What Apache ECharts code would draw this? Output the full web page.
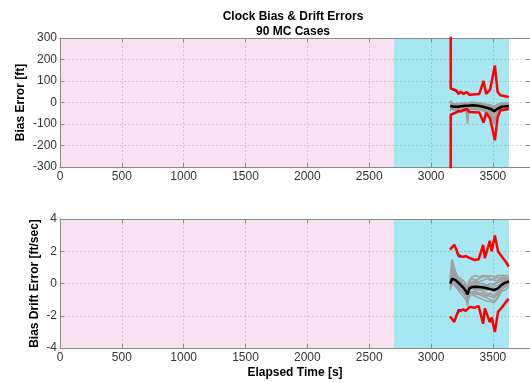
<!DOCTYPE html>
<html><head><meta charset="utf-8">
<script src="https://cdn.jsdelivr.net/npm/echarts@6/dist/echarts.min.js"></script>
<style>html,body{margin:0;padding:0;background:#fff}#c{width:530px;height:383px}</style>
</head><body><div id="c"></div>
<script>
// ---------- data ----------
const phase1 = [0, 2700];
const phase2 = [2700, 3630];

// MC time grid
const tMC = [3155, 3170, 3185, 3200, 3220, 3240, 3260, 3280, 3295, 3310, 3330, 3360, 3390, 3420, 3450, 3480, 3510, 3540, 3570, 3600, 3630];

// Top: bias error [ft]
const biasMean = [-16, -14, -20, -22, -20, -17, -16, -15, -13, -14, -13, -14, -16, -20, -24, -30, -40, -28, -20, -18, -18];
const biasRuns = [
  [-5, -8, -15, -18, -14, -10, -8, -6, -20, -8, -5, -6, -8, -12, -15, -20, -30, -18, -10, -8, -8],
  [-28, -22, -26, -30, -28, -25, -24, -22, -100, -25, -22, -24, -26, -30, -34, -40, -55, -38, -30, -28, -28],
  [10, -2, -12, -14, -12, -10, -10, -8, -30, -6, -4, -6, -10, -14, -18, -26, -32, -22, -14, -12, -10],
  [-35, -25, -30, -32, -30, -28, -26, -24, -60, -22, -20, -22, -24, -28, -40, -60, -90, -40, -28, -26, -26],
  [-15, -12, -18, -20, -18, -15, -14, -12, -40, -12, -10, -12, -14, -18, -22, -28, -38, -26, -18, -16, -16],
  [-22, -16, -22, -26, -24, -20, -20, -18, -70, -20, -16, -18, -20, -24, -28, -34, -48, -32, -24, -22, -22],
  [0, -10, -16, -16, -16, -14, -12, -12, -10, -14, -12, -14, -14, -16, -20, -24, -28, -20, -14, -14, -14],
  [-40, -20, -24, -28, -26, -22, -20, -16, -50, -18, -14, -16, -18, -22, -30, -45, -100, -35, -22, -20, -20],
  [-8, -4, -10, -12, -10, -8, -6, -4, -8, -4, -2, -2, -4, -6, -10, -14, -20, -12, -6, -4, -5],
  [-30, -28, -32, -36, -34, -30, -30, -28, -45, -30, -28, -30, -32, -36, -42, -50, -70, -45, -34, -32, -30],
  [5, 2, -6, -8, -6, -4, -2, 0, -15, 0, 2, 0, -2, -6, -8, -12, -18, -8, -2, -2, -3],
  [-25, -30, -35, -38, -36, -33, -32, -30, -80, -32, -30, -32, -34, -38, -46, -55, -75, -50, -36, -34, -33]
];
const tBiasBound = [3158, 3159, 3172, 3205, 3222, 3240, 3262, 3288, 3310, 3390, 3425, 3445, 3478, 3516, 3538, 3560, 3628];
const biasUpper = [2000, 66, 58, 56, 40, 50, 40, 48, 36, 40, 100, 40, 60, 172, 50, 34, 26];
const biasLower = [-2000, -58, -50, -46, -40, -42, -36, -30, -44, -46, -94, -48, -75, -176, -70, -36, -30];
const tBiasBlue = [3158, 3159, 3172, 3205, 3222];
const biasBlueUp = [2000, 64, 56, 52, 38];
const biasBlueLo = [-2000, -56, -48, -44, -38];

// Bottom: drift error [ft/sec]
const driftMean = [0.0, 0.3, 0.35, 0.2, 0.05, -0.1, -0.25, -0.45, -0.68, -0.3, -0.22, -0.2, -0.22, -0.25, -0.3, -0.35, -0.4, -0.3, -0.08, 0.05, 0.12];
const driftRuns = [
  [0.2, 1.4, 0.8, 0.4, 0.2, 0.0, -0.2, -0.3, -0.5, -0.1, 0.1, 0.2, 0.1, 0.2, 0.3, 0.2, 0.3, 0.4, 0.2, 0.3, 0.3],
  [-0.3, 0.8, 0.5, 0.1, -0.2, -0.4, -0.5, -0.8, -1.4, -0.6, -0.5, -0.6, -0.7, -0.8, -0.9, -1.0, -1.1, -0.8, -0.4, -0.2, -0.1],
  [0.4, 1.0, 0.9, 0.5, 0.3, 0.2, 0.0, -0.2, -0.4, 0.0, 0.0, 0.1, 0.0, 0.0, -0.1, 0.0, -0.1, 0.1, 0.3, 0.3, 0.4],
  [-0.2, -0.2, 0.0, -0.1, -0.3, -0.4, -0.6, -0.8, -1.0, -0.5, -0.5, -0.5, -0.6, -0.6, -0.7, -0.8, -0.9, -0.6, -0.3, -0.2, -0.1],
  [0.1, 0.6, 0.3, 0.2, 0.0, -0.1, -0.3, -0.5, -0.7, -0.3, -0.2, -0.3, -0.3, -0.4, -0.4, -0.4, -0.5, -0.4, -0.1, 0.0, 0.1],
  [0.0, 1.2, 0.6, 0.3, 0.1, -0.2, -0.3, -0.4, -0.9, -0.2, -0.1, -0.1, -0.2, -0.1, -0.2, -0.3, -0.2, -0.1, 0.0, 0.2, 0.2],
  [-0.1, 0.2, 0.2, 0.0, -0.1, -0.3, -0.4, -0.6, -0.8, -0.4, -0.3, -0.4, -0.4, -0.5, -0.6, -0.7, -0.7, -0.5, -0.2, -0.1, 0.0],
  [0.3, 0.5, 0.4, 0.3, 0.1, 0.1, -0.1, -0.2, -0.6, 0.1, 0.3, 0.2, 0.3, 0.4, 0.5, 0.3, 0.2, 0.2, 0.4, 0.4, 0.3],
  [-0.4, 0.1, -0.1, -0.2, -0.4, -0.6, -0.8, -1.0, -1.2, -0.8, -0.7, -0.8, -0.9, -1.0, -1.1, -1.1, -1.2, -0.9, -0.5, -0.4, -0.2],
  [0.5, 1.5, 1.1, 0.7, 0.4, 0.3, 0.2, 0.0, -0.2, 0.2, 0.4, 0.5, 0.4, 0.5, 0.4, 0.5, 0.4, 0.5, 0.5, 0.5, 0.5],
  [-0.2, 0.4, 0.1, -0.1, -0.2, -0.2, -0.5, -0.7, -1.1, -0.6, -0.6, -0.7, -0.6, -0.7, -0.8, -0.6, -0.8, -0.7, -0.3, -0.1, 0.0],
  [0.2, 0.9, 0.7, 0.4, 0.2, 0.1, -0.1, -0.1, -0.3, -0.2, -0.1, 0.0, -0.1, -0.2, -0.1, -0.2, 0.0, 0.1, 0.1, 0.2, 0.3]
];
const tDriftBound = [3153, 3170, 3188, 3205, 3220, 3240, 3260, 3280, 3314, 3354, 3385, 3421, 3435, 3475, 3490, 3516, 3542, 3582, 3600, 3628];
const driftUpper = [2.1, 2.25, 2.4, 2.1, 1.78, 1.7, 1.65, 1.7, 1.57, 1.46, 1.5, 2.4, 1.57, 2.65, 2.0, 2.98, 1.98, 1.57, 1.4, 1.05];
const driftLower = [-2.05, -2.2, -2.38, -2.0, -1.75, -1.68, -1.6, -1.7, -1.45, -1.5, -1.4, -2.5, -1.55, -2.4, -2.1, -3.0, -1.75, -1.4, -1.2, -0.95];
const tDriftBlue = [3205, 3220, 3240];
const driftBlueUp = [2.0, 1.7, 1.62];
const driftBlueLo = [-1.95, -1.65, -1.62];

const xMax = 3800, xStep = 500;
const biasRange = [-300, 300, 100];
const driftRange = [-4, 4, 2];

// ---------- chart ----------
const FONT = 'Liberation Sans, Arial, sans-serif';
const zip = (t, v) => t.map((x, i) => [x, v[i]]);
const chart = echarts.init(document.getElementById('c'), null, {renderer: 'canvas'});

const grids = [
  {left: 60, top: 38, right: -2, height: 129},
  {left: 60, top: 219, right: -2, height: 129}
];
const AX = '#8a8a8a';
const SPLIT = {show: true, lineStyle: {color: 'rgba(110,110,110,0.28)', type: [2, 2], width: 1}};

function xAxes(gi, withName) {
  return [
    {type: 'value', gridIndex: gi, min: 0, max: xMax, interval: xStep, z: 3,
     axisLine: {show: true, onZero: false, lineStyle: {color: AX}},
     axisTick: {show: true, inside: true, length: 4, lineStyle: {color: AX}},
     axisLabel: {color: '#333', fontFamily: FONT, fontSize: 12, margin: 4, showMaxLabel: false, formatter: v => String(v)},
     splitLine: SPLIT,
     name: withName ? 'Elapsed Time [s]' : '', nameLocation: 'middle', nameGap: 19, nameMoveOverlap: false,
     nameTextStyle: {fontFamily: FONT, fontWeight: 'bold', fontSize: 12, color: '#000'}},
    {type: 'value', gridIndex: gi, position: 'top', min: 0, max: xMax, interval: xStep, z: 3,
     axisLine: {show: true, onZero: false, lineStyle: {color: AX}},
     axisTick: {show: true, inside: true, length: 4, lineStyle: {color: AX}},
     axisLabel: {show: false}, splitLine: {show: false}}
  ];
}
function yAxes(gi, r, name, gap) {
  return [
    {type: 'value', gridIndex: gi, min: r[0], max: r[1], interval: r[2], z: 3,
     axisLine: {show: true, onZero: false, lineStyle: {color: AX}},
     axisTick: {show: true, inside: true, length: 4, lineStyle: {color: AX}},
     axisLabel: {color: '#333', fontFamily: FONT, fontSize: 12, margin: 3, formatter: v => String(v)},
     splitLine: SPLIT,
     name: name, nameLocation: 'middle', nameRotate: 90, nameGap: gap, nameMoveOverlap: false,
     nameTextStyle: {fontFamily: FONT, fontWeight: 'bold', fontSize: 12, color: '#000'}},
    {type: 'value', gridIndex: gi, position: 'right', min: r[0], max: r[1], interval: r[2], z: 3,
     axisLine: {show: true, onZero: false, lineStyle: {color: AX}},
     axisTick: {show: true, inside: true, length: 4, lineStyle: {color: AX}},
     axisLabel: {show: false}, splitLine: {show: false}}
  ];
}

function plotSeries(gi, runs, mean, tB, up, lo, tBl, blUp, blLo) {
  const xi = gi * 2, yi = gi * 2;
  const base = {type: 'line', xAxisIndex: xi, yAxisIndex: yi, showSymbol: false, symbol: 'none', silent: true, animation: false, clip: true};
  const s = [];
  s.push(Object.assign({}, base, {z: 1, data: [],
    markArea: {silent: true, itemStyle: {opacity: 1}, data: [
      [{xAxis: phase1[0], itemStyle: {color: '#f8e2f0'}}, {xAxis: phase1[1]}],
      [{xAxis: phase2[0], itemStyle: {color: '#a6e7f1'}}, {xAxis: phase2[1]}]
    ]}}));
  runs.forEach(r => s.push(Object.assign({}, base, {z: 5, data: zip(tMC, r), lineStyle: {color: '#a0a0a0', width: 1.5}})));
  s.push(Object.assign({}, base, {z: 6, data: zip(tMC, mean), lineStyle: {color: '#000', width: 2.5}}));
  s.push(Object.assign({}, base, {z: 7, data: zip(tBl, blUp), lineStyle: {color: '#0000ff', width: 1.5}}));
  s.push(Object.assign({}, base, {z: 7, data: zip(tBl, blLo), lineStyle: {color: '#0000ff', width: 1.5}}));
  s.push(Object.assign({}, base, {z: 8, data: zip(tB, up), lineStyle: {color: '#ff0000', width: 2.5}}));
  s.push(Object.assign({}, base, {z: 8, data: zip(tB, lo), lineStyle: {color: '#ff0000', width: 2.5}}));
  return s;
}

const option = {
  animation: false,
  grid: grids,
  xAxis: [...xAxes(0, false), ...xAxes(1, true)],
  yAxis: [...yAxes(0, biasRange, 'Bias Error [ft]', 33), ...yAxes(1, driftRange, 'Bias Drift Error [ft/sec]', 19)],
  series: [
    ...plotSeries(0, biasRuns, biasMean, tBiasBound, biasUpper, biasLower, tBiasBlue, biasBlueUp, biasBlueLo),
    ...plotSeries(1, driftRuns, driftMean, tDriftBound, driftUpper, driftLower, tDriftBlue, driftBlueUp, driftBlueLo)
  ],
  graphic: [
    {type: 'text', x: 293, y: 17, style: {text: 'Clock Bias & Drift Errors', font: 'bold 12px ' + FONT, fill: '#000', align: 'center', verticalAlign: 'middle'}},
    {type: 'text', x: 293, y: 32, style: {text: '90 MC Cases', font: 'bold 12px ' + FONT, fill: '#000', align: 'center', verticalAlign: 'middle'}}
  ]
};
chart.setOption(option);
</script></body></html>
